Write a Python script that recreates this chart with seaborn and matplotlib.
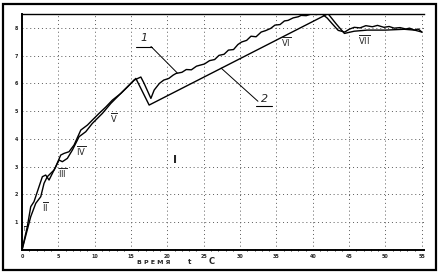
import matplotlib
matplotlib.use("Agg")
import matplotlib.pyplot as plt
import seaborn as sns
import pandas as pd
from matplotlib.patches import Rectangle
from matplotlib.ticker import MultipleLocator

# ---- data (time axis 0..55, value in grid units) ----
curve1_t = [0, 0.73, 1.2, 1.65, 2.34, 2.8, 3.26, 3.72, 3.95, 4.64, 5.33, 5.79, 6.47, 7.16,
            8.09, 9.0, 9.68, 10.6, 11.53, 12.44, 13.6, 14.5, 15.43, 16.35, 16.8, 17.73, 18.18,
            18.9, 19.5, 20.2, 20.8, 21.2, 22.0, 22.6, 23.3, 24.0, 24.4, 25.1, 25.8, 26.5, 27.1,
            27.8, 28.4, 29.1, 29.7, 30.2, 30.9, 31.5, 32.2, 32.9, 33.5, 34.2, 34.8, 35.5, 36.1,
            36.6, 37.3, 38.0, 38.4, 39.1, 39.8, 40.5, 41.2,
            42.0, 42.6, 43.5, 44.4, 45.0, 45.7, 46.5, 47.3, 48.2, 48.9, 49.8, 50.5, 51.2, 52.0,
            52.8, 53.3, 54.0, 54.5, 55.0]
curve1_v = [0, 0.84, 1.56, 1.74, 2.28, 2.64, 2.70, 2.52, 2.64, 3.0, 3.42, 3.48, 3.54, 3.78,
            4.32, 4.5, 4.68, 4.92, 5.15, 5.4, 5.64, 5.87, 6.12, 6.23, 6.0, 5.46, 5.76,
            6.00, 6.12, 6.18, 6.30, 6.36, 6.40, 6.50, 6.49, 6.62, 6.65, 6.70, 6.82, 6.86, 7.01,
            7.05, 7.20, 7.22, 7.40, 7.49, 7.55, 7.70, 7.68, 7.85, 7.90, 7.98, 8.10, 8.12, 8.25,
            8.27, 8.36, 8.40, 8.45, 8.44, 8.50, 8.48, 8.52,
            8.35, 8.17, 7.91, 7.85, 7.95, 8.02, 8.00, 8.08, 8.04, 8.09, 8.02, 8.05, 7.99, 8.01,
            7.96, 7.99, 7.92, 7.96, 7.85]

curve2_t = [0, 1.2, 1.89, 2.58, 3.03, 3.48, 4.41, 5.1, 5.55, 6.24, 6.93, 7.85, 8.77, 9.68,
            11.06, 12.22, 13.36, 14.74, 15.66, 16.35, 17.49, 42.1, 43.2, 44.35, 45.7, 47.5,
            50.0, 52.6, 54.0, 55.0]
curve2_v = [0, 1.2, 1.68, 1.92, 2.4, 2.64, 2.88, 3.24, 3.18, 3.3, 3.6, 4.08, 4.26, 4.56,
            4.92, 5.28, 5.58, 5.94, 6.18, 5.82, 5.22, 8.51, 8.15, 7.80, 7.88, 7.92,
            7.92, 7.95, 7.92, 7.85]

x_ticks = [0, 5, 10, 15, 20, 25, 30, 35, 40, 45, 50, 55]
x_tick_labels = ["0", "5", "10", "15", "20", "25", "30", "35", "40", "45", "50", "55"]
y_ticks = [1, 2, 3, 4, 5, 6, 7, 8]
y_tick_labels = ["1", "2", "3", "4", "5", "6", "7", "8"]
stage_labels = ["I", "II", "III", "IV", "V", "VI", "VII"]
stage_t = [0.35, 3.26, 5.55, 8.08, 12.67, 36.36, 47.15]
stage_v = [0.75, 1.55, 2.77, 3.56, 4.74, 7.5, 7.56]

df1 = pd.DataFrame({"t": curve1_t, "v": curve1_v})
df2 = pd.DataFrame({"t": curve2_t, "v": curve2_v})

sns.set_style("white")
plt.rcParams["font.family"] = ["DejaVu Sans"]

fig = plt.figure(figsize=(4.44, 2.76), dpi=100)
ax = fig.add_axes([22 / 444, 1 - 250 / 276, (424 - 22) / 444, (250 - 14) / 276])

sns.lineplot(data=df1, x="t", y="v", ax=ax, color="black", lw=1.0, sort=False, estimator=None)
sns.lineplot(data=df2, x="t", y="v", ax=ax, color="black", lw=1.0, sort=False, estimator=None)

ax.set_xlim(0, 55.3)
ax.set_ylim(0, 8.5)
ax.set_xticks(x_ticks)
ax.set_xticklabels(x_tick_labels, fontsize=3.5, fontweight="bold")
ax.set_yticks(y_ticks)
ax.set_yticklabels(y_tick_labels, fontsize=3.5, fontweight="bold")
ax.xaxis.set_minor_locator(MultipleLocator(1))
ax.tick_params(axis="both", which="major", direction="inout", length=3, width=0.8, pad=1.5, color="black")
ax.tick_params(axis="x", which="minor", direction="inout", length=2, width=0.6, bottom=True, color="black")
ax.set_xlabel("")
ax.set_ylabel("")

ax.grid(True, which="major", linestyle=(0, (1, 3)), color="0.35", lw=0.7)
for side in ["left", "bottom", "top"]:
    ax.spines[side].set_visible(True)
    ax.spines[side].set_color("black")
ax.spines["left"].set_linewidth(1.4)
ax.spines["bottom"].set_linewidth(1.4)
ax.spines["top"].set_linewidth(1.0)
ax.spines["right"].set_visible(False)

# curve labels with leader lines
ax.annotate("1", xy=(21.35, 6.38), xytext=(16.8, 7.45), fontsize=8, style="italic",
            ha="center", va="bottom",
            arrowprops=dict(arrowstyle="-", color="black", lw=0.7,
                            shrinkA=0, shrinkB=0, relpos=(1.0, 0.0)))
ax.plot([15.7, 17.9], [7.3, 7.3], color="black", lw=0.8)
ax.annotate("2", xy=(27.4, 6.55), xytext=(33.4, 5.25), fontsize=8, style="italic",
            ha="center", va="bottom",
            arrowprops=dict(arrowstyle="-", color="black", lw=0.7,
                            shrinkA=0, shrinkB=0, relpos=(0.0, 0.0)))
ax.plot([32.2, 34.4], [5.2, 5.2], color="black", lw=0.8)

for lab, t, v in zip(stage_labels, stage_t, stage_v):
    fs = 4 if lab == "I" else 6
    ax.text(t, v, r"$\overline{\mathrm{%s}}$" % lab, fontsize=fs, ha="center", va="center",
            fontweight="bold")

ax.text(21.07, 3.24, "I", fontsize=8, fontweight="bold", ha="center", va="center")

# axis title, just below the tick label row
fig.text(137 / 444, 1 - 262 / 276, "В Р Е М Я", fontsize=4.5, fontweight="bold", ha="left", va="center")
fig.text(190 / 444, 1 - 262 / 276, "t", fontsize=5, fontweight="bold", ha="center", va="center")
fig.text(212 / 444, 1 - 262 / 276, "С", fontsize=6, fontweight="bold", ha="center", va="center")

# outer frame
fig.patches.append(Rectangle((3 / 444, 1 - 270 / 276), (436 - 3) / 444, (270 - 4) / 276,
                             transform=fig.transFigure, fill=False, lw=1.6, edgecolor="black"))

fig.savefig("out.png", dpi=100, facecolor="white")
